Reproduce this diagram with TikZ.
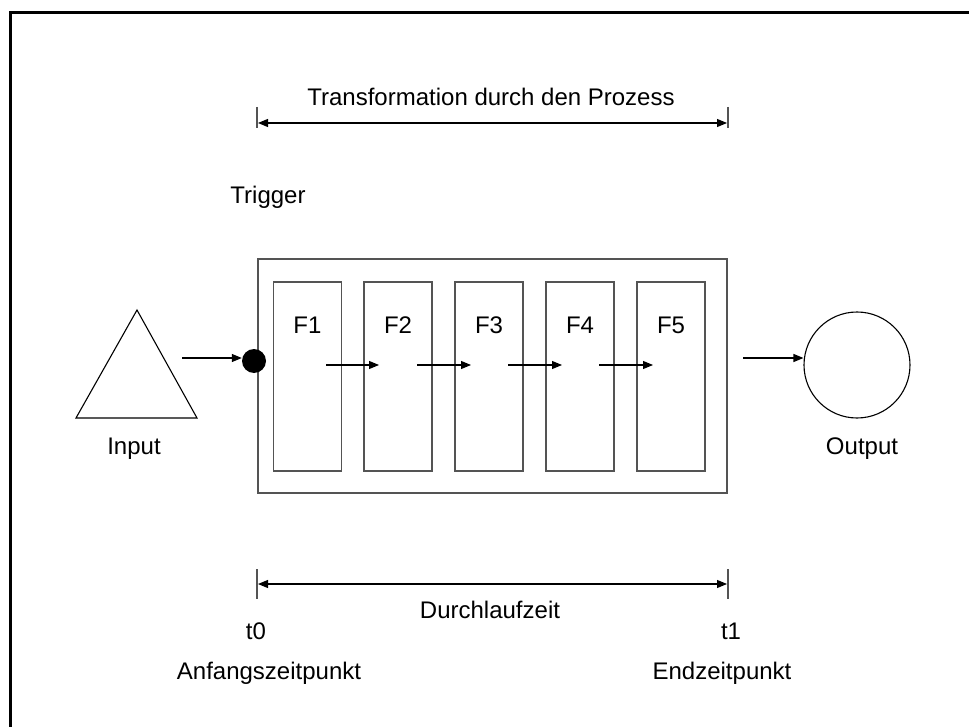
\documentclass[tikz,border=0pt]{standalone}
\usepackage{fontspec}
\setmainfont{Liberation Sans}
\usetikzlibrary{arrows.meta}
\definecolor{edge}{rgb}{0.33,0.33,0.33}
\begin{document}
\begin{tikzpicture}[x=1pt,y=-1pt,
  lbl/.style={font=\fontsize{24}{28}\selectfont, inner sep=0pt},
  fbox/.style={draw=edge, line width=1.1pt, minimum width=68pt, minimum height=189pt, inner sep=0pt},
  arr/.style={line width=1.1pt, -{Triangle[length=10pt,width=8pt]}},
  dim/.style={line width=1.1pt, {Triangle[length=10pt,width=8pt]}-{Triangle[length=10pt,width=8pt]}},
  tick/.style={draw=edge, line width=1.4pt}]
\useasboundingbox (0,0) rectangle (969,727);
% outer frame (only top and left edges fall inside the page)
\draw[line width=2.5pt] (10.5,727) -- (10.5,12.5) -- (969,12.5);

% process box with its five functions
\node[draw=edge, line width=1.6pt, minimum width=469pt, minimum height=234pt, inner sep=0pt] (proc) at (492.5,376) {};
\foreach \i/\x in {1/307.5,2/398,3/489,4/580,5/671}{
  \node[fbox] (f\i) at (\x,376.5) {};
  \node[lbl] (l\i) at ([yshift=-44pt]f\i.north) {F\i};
}
% arrows between functions
\foreach \a/\b [count=\k] in {326/379,417/471,508/562,599/653}{
  \coordinate (s\k) at (\a,365);
  \coordinate (e\k) at (\b,365);
  \draw[arr] (s\k) -- (e\k);
}

% input
\draw[line width=1.1pt] (137,310) coordinate (ta) -- (76,418) coordinate (tb) -- (197,418) coordinate (tc) -- cycle;
\node[lbl] (inputl) at (134,449) {Input};

% trigger point
\node[circle, fill=black, minimum size=24pt, inner sep=0pt] (trig) at (254,361) {};
\node[lbl] (trigl) at (268,197) {Trigger};
\coordinate (ina) at (182,358);
\draw[arr] (ina) -- (trig.west |- ina);

% output
\node[circle, draw, line width=1.1pt, minimum size=106pt, inner sep=0pt] (out) at (857,365) {};
\node[lbl] (outl) at (862,449) {Output};
\coordinate (outa) at (743,358);
\draw[arr] (outa) -- (out.west |- outa);

% transformation span
\coordinate (ta1) at (257,107); \coordinate (ta2) at (257,128);
\coordinate (tb1) at (728,107); \coordinate (tb2) at (728,128);
\draw[tick] (ta1) -- (ta2);
\draw[tick] (tb1) -- (tb2);
\coordinate (tl) at (258,123); \coordinate (tr) at (727,123);
\draw[dim] (tl) -- (tr);
\node[lbl] (trans) at (491,97) {Transformation durch den Prozess};

% throughput time span
\coordinate (ba1) at (257,569); \coordinate (ba2) at (257,599);
\coordinate (bb1) at (728,569); \coordinate (bb2) at (728,599);
\draw[tick] (ba1) -- (ba2);
\draw[tick] (bb1) -- (bb2);
\coordinate (bl) at (258,584); \coordinate (br) at (727,584);
\draw[dim] (bl) -- (br);
\node[lbl] (dlz) at (490,610) {Durchlaufzeit};
\node[lbl] (t0) at (256,631) {t0};
\node[lbl] (t1) at (731,631) {t1};
\node[lbl] (anf) at (269,673) {Anfangszeitpunkt};
\node[lbl] (end) at (722,673) {Endzeitpunkt};
\end{tikzpicture}
\end{document}
